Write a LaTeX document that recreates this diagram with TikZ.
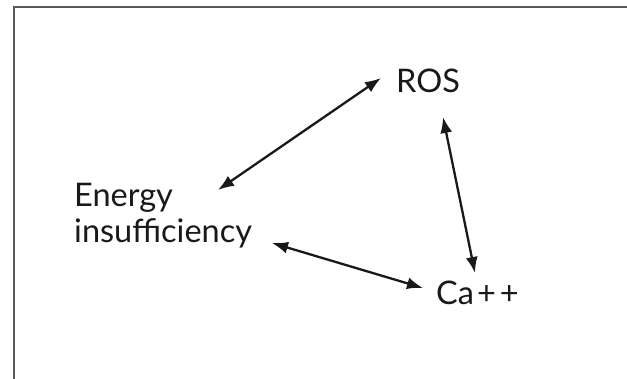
\documentclass[tikz,border=0pt]{standalone}
\usepackage{fontspec}
\setmainfont{Lato}
\usetikzlibrary{arrows.meta}
\begin{document}
\begin{tikzpicture}[x=1pt,y=-1pt,
  lbl/.style={font=\fontsize{32.5}{36}\selectfont, text=black!90, inner sep=0pt, anchor=base west, align=left},
  link/.style={line width=2.3pt, draw=black!90, {Latex[length=16pt,width=12pt]}-{Latex[length=16pt,width=12pt]}},
  frame/.style={line width=2.2pt, draw=black!65}]
\useasboundingbox (0,0) rectangle (627,379);
\coordinate (fb) at (14,379);
\coordinate (fc) at (14,7);
\coordinate (fe) at (627,7);
\draw[frame] (fb) -- (fc) -- (fe);
\node[lbl] (ros) at (396,93) {ROS};
\node[lbl] (energy) at (74,243) {Energy\\insufficiency};
\node[lbl] (ca) at (436,305) {Ca\kern3pt+\kern4pt+};
\coordinate (a1) at (381,78);
\coordinate (a2) at (218,190);
\coordinate (b1) at (443,117);
\coordinate (b2) at (475,273);
\coordinate (c1) at (272,243);
\coordinate (c2) at (423,288);
\draw[link] (a1) -- (a2);
\draw[link] (b1) -- (b2);
\draw[link] (c1) -- (c2);
\end{tikzpicture}
\end{document}
